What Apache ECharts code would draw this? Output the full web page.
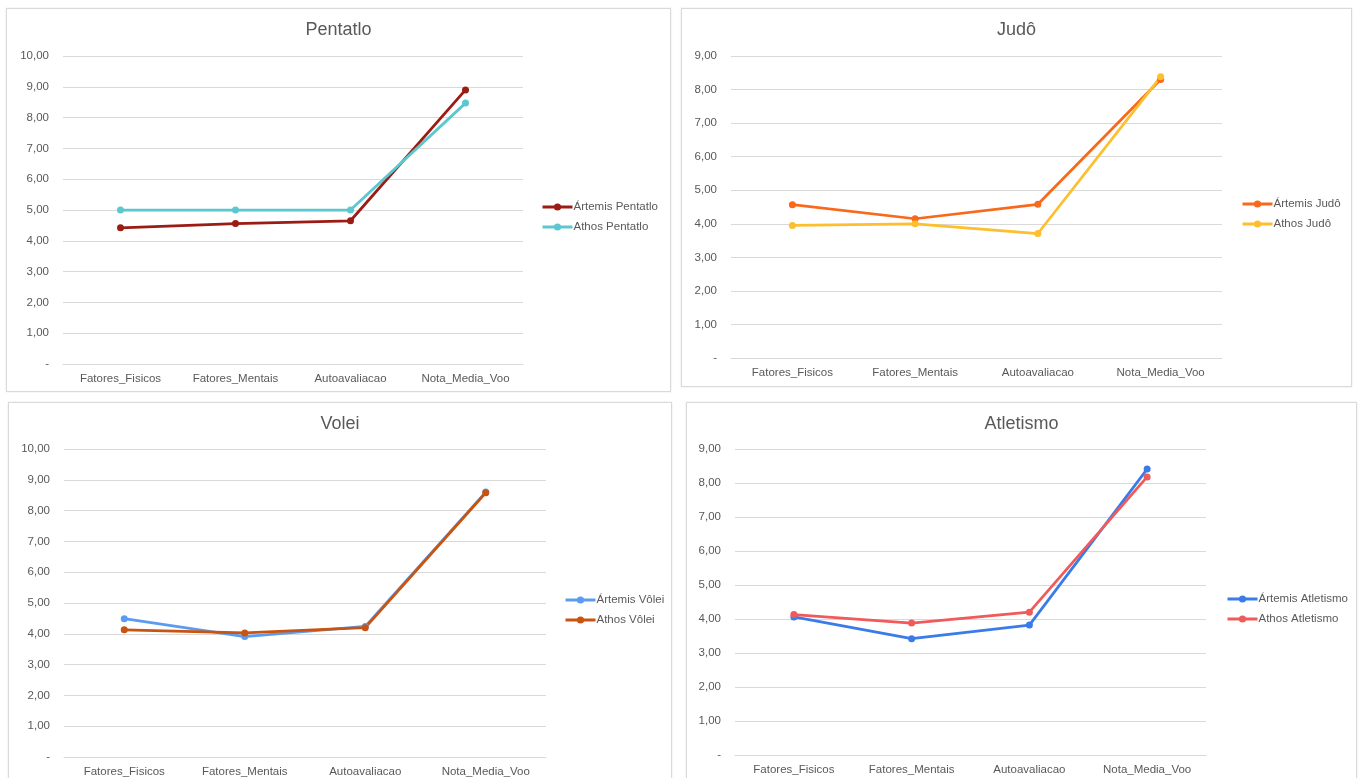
<!DOCTYPE html>
<html>
<head>
<meta charset="utf-8">
<title>Desempenho por modalidade</title>
<script src="https://cdn.jsdelivr.net/npm/echarts@6/dist/echarts.min.js"></script>
<style>
  html, body { margin: 0; padding: 0; background: #ffffff; width: 1362px; height: 778px; overflow: hidden; }
  .panel {
    position: absolute;
    box-sizing: border-box;
    border: 1px solid #d9d9d9;
    box-shadow: 0 0 2px rgba(0, 0, 0, 0.10);
    background: #ffffff;
  }
</style>
</head>
<body>
<div id="pentatlo" class="panel" style="left:6px;top:8px;width:665px;height:384px;"></div>
<div id="judo" class="panel" style="left:681px;top:8px;width:671px;height:379px;"></div>
<div id="volei" class="panel" style="left:8px;top:402px;width:664px;height:390px;"></div>
<div id="atletismo" class="panel" style="left:686px;top:402px;width:671px;height:390px;"></div>
<script>
// Categories shared by all four charts
const categories = ['Fatores_Fisicos', 'Fatores_Mentais', 'Autoavaliacao', 'Nota_Media_Voo'];

// Y-axis tick labels (index = value)
const yTickLabels = ['-', '1,00', '2,00', '3,00', '4,00', '5,00', '6,00', '7,00', '8,00', '9,00', '10,00'];

// Pentatlo
const artemisPentatlo = [4.42, 4.56, 4.65, 8.90];
const athosPentatlo   = [5.00, 5.00, 5.00, 8.47];

// Judô
const artemisJudo = [4.57, 4.15, 4.58, 8.30];
const athosJudo   = [3.95, 4.00, 3.71, 8.38];

// Vôlei
const artemisVolei = [4.49, 3.91, 4.24, 8.60];
const athosVolei   = [4.13, 4.03, 4.20, 8.58];

// Atletismo
const artemisAtletismo = [4.06, 3.42, 3.82, 8.41];
const athosAtletismo   = [4.13, 3.88, 4.20, 8.18];

const TEXT = '#595959';
const GRID_LINE = '#d9d9d9';
const FONT = '"Liberation Sans", Arial, sans-serif';

function makeChart(domId, cfg) {
  const chart = echarts.init(document.getElementById(domId), null, { renderer: 'canvas' });
  const seriesList = cfg.series.map(s => ({
    name: s.name,
    type: 'line',
    data: s.data,
    symbol: 'circle',
    symbolSize: 7,
    lineStyle: { width: 2.75, color: s.color },
    itemStyle: { color: s.color },
    emphasis: { disabled: true }
  }));
  chart.setOption({
    animation: false,
    textStyle: { fontFamily: FONT },
    title: {
      text: cfg.title,
      left: 'center',
      top: 7,
      textStyle: { color: TEXT, fontSize: 18, fontWeight: 'normal', fontFamily: FONT }
    },
    legend: {
      orient: 'vertical',
      left: cfg.legendX,
      top: cfg.legendY,
      itemWidth: 30,
      itemHeight: 9,
      itemGap: 8,
      padding: 0,
      lineStyle: { width: 3 },
      textStyle: { color: TEXT, fontSize: 11.5, fontFamily: FONT, padding: [0, 0, 0, -4] },
      data: cfg.series.map(s => s.name)
    },
    grid: {
      left: cfg.grid[0],
      top: cfg.grid[1],
      width: cfg.grid[2],
      height: cfg.grid[3],
      containLabel: false
    },
    xAxis: {
      type: 'category',
      data: categories,
      boundaryGap: true,
      axisLine: { show: true, lineStyle: { color: GRID_LINE, width: 1 } },
      axisTick: { show: false },
      axisLabel: { color: TEXT, fontSize: 11.5, fontFamily: FONT, margin: 9, interval: 0 }
    },
    yAxis: {
      type: 'value',
      min: 0,
      max: cfg.yMax,
      interval: 1,
      axisLine: { show: false },
      axisTick: { show: false },
      splitLine: { show: true, lineStyle: { color: GRID_LINE, width: 1 } },
      axisLabel: {
        color: TEXT,
        fontSize: 11.5,
        fontFamily: FONT,
        margin: 14,
        formatter: v => yTickLabels[Math.round(v)]
      }
    },
    series: seriesList
  });
  return chart;
}

makeChart('pentatlo', {
  title: 'Pentatlo', legendX: 534, legendY: 192, yMax: 10,
  grid: [56, 47, 460, 308],
  series: [
    { name: 'Ártemis Pentatlo', data: artemisPentatlo, color: '#9a1c14' },
    { name: 'Athos Pentatlo', data: athosPentatlo, color: '#5cc7cf' }
  ]
});

makeChart('judo', {
  title: 'Judô', legendX: 559, legendY: 189, yMax: 9,
  grid: [49, 47, 491, 302],
  series: [
    { name: 'Ártemis Judô', data: artemisJudo, color: '#f8691b' },
    { name: 'Athos Judô', data: athosJudo, color: '#fdbf2d' }
  ]
});

makeChart('volei', {
  title: 'Volei', legendX: 555, legendY: 191, yMax: 10,
  grid: [55, 46, 482, 308],
  series: [
    { name: 'Ártemis Vôlei', data: artemisVolei, color: '#5b9cf0' },
    { name: 'Athos Vôlei', data: athosVolei, color: '#c8540f' }
  ]
});

makeChart('atletismo', {
  title: 'Atletismo', legendX: 539, legendY: 190, yMax: 9,
  grid: [48, 46, 471, 306],
  series: [
    { name: 'Ártemis Atletismo', data: artemisAtletismo, color: '#3a7bea' },
    { name: 'Athos Atletismo', data: athosAtletismo, color: '#f05a5a' }
  ]
});
</script>
</body>
</html>
